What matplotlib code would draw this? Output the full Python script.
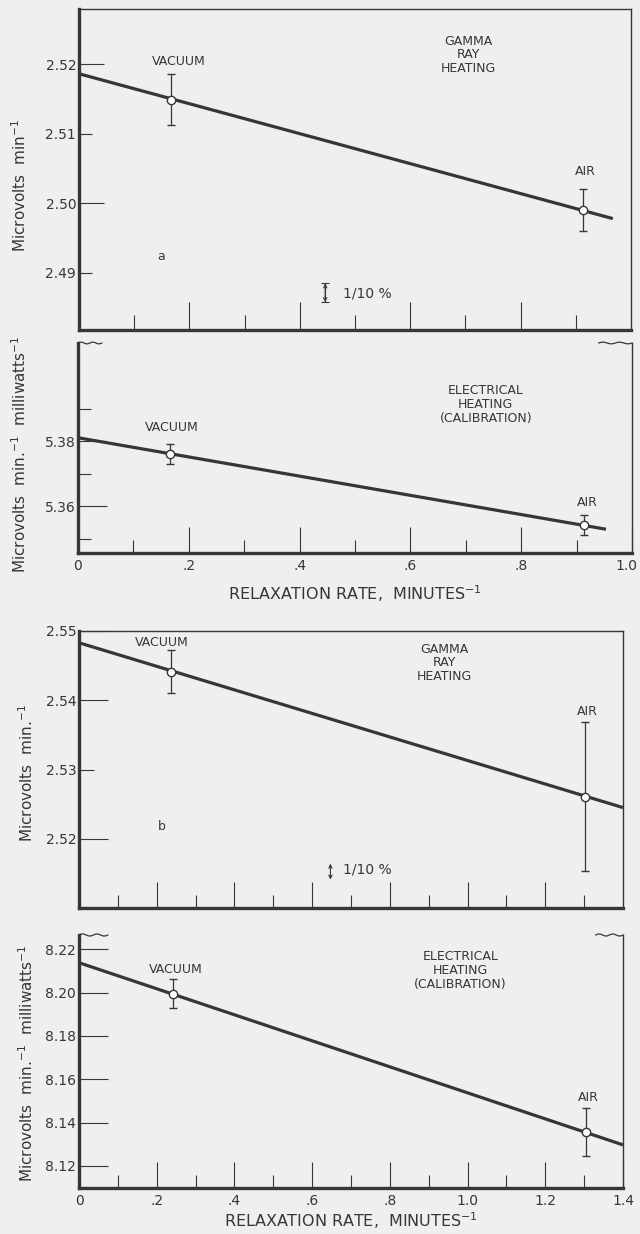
import numpy as np
import matplotlib
matplotlib.use("Agg")
import matplotlib.pyplot as plt
from matplotlib.transforms import ScaledTranslation

plt.rcParams['font.family'] = ['DejaVu Sans']
plt.rcParams['mathtext.default'] = 'regular'

BG = '#efefef'
INK = '#363636'

# --- data ---
# (a) gamma ray heating
a_x = [0.166, 0.913]
a_y = [2.5149, 2.4990]
a_err = [0.0036, 0.0030]
a_fit_x = [0.0, 0.967]
a_fit_y = [2.5186, 2.4978]

# (a) electrical heating (calibration)
ae_x = [0.166, 0.914]
ae_y = [5.3762, 5.3543]
ae_err = [0.0031, 0.0031]
ae_fit_x = [0.0, 0.953]
ae_fit_y = [5.3811, 5.3530]

# (b) gamma ray heating
b_x = [0.236, 1.303]
b_y = [2.5441, 2.5261]
b_err = [0.0031, 0.0108]
b_fit_x = [0.0, 1.4]
b_fit_y = [2.5483, 2.5245]

# (b) electrical heating (calibration)
be_x = [0.241, 1.304]
be_y = [8.1995, 8.1356]
be_err = [0.0066, 0.0112]
be_fit_x = [0.0, 1.4]
be_fit_y = [8.2138, 8.1297]

point_names = ['VACUUM', 'AIR']

# 1/10 % scale bars
a_bar = [2.4858, 2.4885]
b_bar = [2.5141, 2.5164]


def style_axes(ax, xmax, top_open=False):
    ax.set_facecolor(BG)
    ax.set_xlim(0, xmax)
    for s in ['left', 'bottom', 'right', 'top']:
        ax.spines[s].set_color(INK)
    ax.spines['left'].set_linewidth(2.4)
    ax.spines['bottom'].set_linewidth(2.4)
    ax.spines['right'].set_linewidth(1.0)
    ax.spines['top'].set_linewidth(1.0)
    if top_open:
        ax.spines['top'].set_visible(False)
    ax.tick_params(which='both', direction='in', colors=INK, width=0.8,
                   labelsize=10, labelcolor=INK)
    ax.tick_params(axis='x', which='both', top=False, pad=4)
    ax.tick_params(axis='y', which='both', right=False, pad=2)


def break_marks(ax, spans):
    # little wavy "broken axis" marks at the top corners
    for x0, x1 in spans:
        xs = np.linspace(x0, x1, 40)
        ys = 1 + 0.004 * np.sin((xs - x0) / (x1 - x0) * 4 * np.pi)
        ax.plot(xs, ys, transform=ax.transAxes, color=INK, lw=0.9,
                clip_on=False)


def draw_series(ax, fx, fy, px, py, perr, labels, lab_pos):
    ax.plot(fx, fy, color=INK, lw=2.3, solid_capstyle='butt', zorder=2)
    ax.errorbar(px, py, yerr=perr, fmt='o', ms=6, mfc='white', mec=INK,
                mew=1.0, ecolor=INK, elinewidth=0.9, capsize=3, capthick=0.9,
                zorder=3)
    for name, (tx, ty) in zip(labels, lab_pos):
        ax.text(tx, ty, name, ha='center', va='center', fontsize=9, color=INK)


fig = plt.figure(figsize=(6.4, 12.34), dpi=100, facecolor=BG)

# ---------------- panel a : gamma ray ----------------
ax1 = fig.add_axes([79 / 640, 1 - 330 / 1234, 552 / 640, 321 / 1234])
style_axes(ax1, 1.0)
ax1.set_ylim(2.4818, 2.5279)
draw_series(ax1, a_fit_x, a_fit_y, a_x, a_y, a_err, point_names,
            [(0.18, 2.5204), (0.918, 2.5045)])
ax1.set_yticks([2.50, 2.52])
ax1.set_yticklabels(['2.50', '2.52'])
ax1.set_yticks([2.49, 2.51], minor=True)
ax1.set_yticklabels(['2.49', '2.51'], minor=True)
ax1.set_xticks([0.2, 0.4, 0.6, 0.8])
ax1.set_xticks([0.1, 0.3, 0.5, 0.7, 0.9], minor=True)
ax1.tick_params(axis='x', which='both', labelbottom=False)
ax1.tick_params(axis='y', which='major', length=18)
ax1.tick_params(axis='y', which='minor', length=9)
ax1.tick_params(axis='x', which='major', length=20)
ax1.tick_params(axis='x', which='minor', length=11)
ax1.text(0.706, 2.5213, 'GAMMA\nRAY\nHEATING', ha='center', va='center',
         fontsize=9, color=INK, linespacing=1.05)
ax1.text(0.149, 2.4924, 'a', ha='center', va='center', fontsize=9, color=INK)
ax1.errorbar([0.446], [np.mean(a_bar)], yerr=[(a_bar[1] - a_bar[0]) / 2],
             fmt='none', ecolor=INK, elinewidth=0.8, capsize=3, capthick=0.8)
ax1.annotate('', xy=(0.446, a_bar[0]), xytext=(0.446, a_bar[1]),
             arrowprops=dict(arrowstyle='<->', color=INK, lw=0.8,
                             shrinkA=0, shrinkB=0, mutation_scale=6))
ax1.text(0.478, 2.4871, '1/10 %', ha='left', va='center', fontsize=10,
         color=INK)
ax1.set_ylabel('Microvolts  min$^{-1}$', fontsize=11, color=INK)
ax1.yaxis.set_label_coords(-0.107, 0.45)
ax1.yaxis.label.set_va('center')

# ---------------- panel a : electrical ----------------
ax2 = fig.add_axes([78 / 640, 1 - 553 / 1234, 554 / 640, 210 / 1234])
style_axes(ax2, 1.0, top_open=True)
ax2.set_ylim(5.3457, 5.4102)
draw_series(ax2, ae_fit_x, ae_fit_y, ae_x, ae_y, ae_err, point_names,
            [(0.17, 5.3843), (0.92, 5.3612)])
ax2.set_yticks([5.36, 5.38])
ax2.set_yticklabels(['5.36', '5.38'])
ax2.set_yticks([5.35, 5.37, 5.39], minor=True)
ax2.tick_params(axis='y', which='major', length=21)
ax2.tick_params(axis='y', which='minor', length=9)
ax2.set_xticks([0, 0.2, 0.4, 0.6, 0.8, 1.0])
ax2.set_xticklabels(['0', '.2', '.4', '.6', '.8', '1.0'])
ax2.set_xticks([0.1, 0.3, 0.5, 0.7, 0.9], minor=True)
ax2.tick_params(axis='x', which='major', length=19)
ax2.tick_params(axis='x', which='minor', length=9.5)
# the last label sits right at the page edge; nudge it in a little
last = ax2.get_xticklabels()[-1]
last.set_transform(last.get_transform() +
                   ScaledTranslation(-6 / 100, 0, fig.dpi_scale_trans))
ax2.text(0.736, 5.3912, 'ELECTRICAL\nHEATING\n(CALIBRATION)', ha='center',
         va='center', fontsize=9, color=INK, linespacing=1.1)
ax2.set_xlabel('RELAXATION RATE,  MINUTES$^{-1}$', fontsize=11.5, color=INK,
               labelpad=8)
ax2.set_ylabel('Microvolts  min.$^{-1}$  milliwatts$^{-1}$', fontsize=11,
               color=INK)
ax2.yaxis.set_label_coords(-0.105, 0.47)
ax2.yaxis.label.set_va('center')
break_marks(ax2, [(0.0, 0.043), (0.94, 1.0)])

# ---------------- panel b : gamma ray ----------------
ax3 = fig.add_axes([79 / 640, 1 - 908 / 1234, 544 / 640, 277 / 1234])
style_axes(ax3, 1.4)
ax3.set_ylim(2.51, 2.55)
draw_series(ax3, b_fit_x, b_fit_y, b_x, b_y, b_err, point_names,
            [(0.214, 2.5484), (1.308, 2.5384)])
ax3.set_yticks([2.52, 2.54, 2.55])
ax3.set_yticklabels(['2.52', '2.54', '2.55'])
ax3.set_yticks([2.53], minor=True)
ax3.set_yticklabels(['2.53'], minor=True)
ax3.tick_params(axis='y', which='major', length=21)
ax3.tick_params(axis='y', which='minor', length=11)
ax3.set_xticks([0.2, 0.4, 0.6, 0.8, 1.0, 1.2])
ax3.set_xticks([0.1, 0.3, 0.5, 0.7, 0.9, 1.1, 1.3], minor=True)
ax3.tick_params(axis='x', which='both', labelbottom=False)
ax3.tick_params(axis='x', which='major', length=19)
ax3.tick_params(axis='x', which='minor', length=9.5)
ax3.text(0.94, 2.5454, 'GAMMA\nRAY\nHEATING', ha='center', va='center',
         fontsize=9, color=INK, linespacing=1.05)
ax3.text(0.214, 2.5218, 'b', ha='center', va='center', fontsize=9, color=INK)
ax3.annotate('', xy=(0.647, b_bar[0]), xytext=(0.647, b_bar[1]),
             arrowprops=dict(arrowstyle='<->', color=INK, lw=0.8,
                             shrinkA=0, shrinkB=0, mutation_scale=6))
ax3.text(0.68, 2.5156, '1/10 %', ha='left', va='center', fontsize=10,
         color=INK)
ax3.set_ylabel('Microvolts  min.$^{-1}$', fontsize=11, color=INK)
ax3.yaxis.set_label_coords(-0.097, 0.487)
ax3.yaxis.label.set_va('center')

# ---------------- panel b : electrical ----------------
ax4 = fig.add_axes([79 / 640, 1 - 1188 / 1234, 544 / 640, 253 / 1234])
style_axes(ax4, 1.4, top_open=True)
ax4.set_ylim(8.1098, 8.2266)
draw_series(ax4, be_fit_x, be_fit_y, be_x, be_y, be_err, point_names,
            [(0.249, 8.2108), (1.312, 8.1515)])
ax4.set_yticks([8.12, 8.14, 8.16, 8.18, 8.20, 8.22])
ax4.set_yticklabels(['8.12', '8.14', '8.16', '8.18', '8.20', '8.22'])
ax4.tick_params(axis='y', which='major', length=21)
ax4.set_xticks([0, 0.2, 0.4, 0.6, 0.8, 1.0, 1.2, 1.4])
ax4.set_xticklabels(['0', '.2', '.4', '.6', '.8', '1.0', '1.2', '1.4'])
ax4.set_xticks([0.1, 0.3, 0.5, 0.7, 0.9, 1.1, 1.3], minor=True)
ax4.tick_params(axis='x', which='major', length=19)
ax4.tick_params(axis='x', which='minor', length=9.5)
ax4.text(0.982, 8.2101, 'ELECTRICAL\nHEATING\n(CALIBRATION)', ha='center',
         va='center', fontsize=9, color=INK, linespacing=1.1)
ax4.set_xlabel('RELAXATION RATE,  MINUTES$^{-1}$', fontsize=11.5, color=INK,
               labelpad=2)
ax4.set_ylabel('Microvolts  min.$^{-1}$  milliwatts$^{-1}$', fontsize=11,
               color=INK)
ax4.yaxis.set_label_coords(-0.097, 0.494)
ax4.yaxis.label.set_va('center')
break_marks(ax4, [(0.0, 0.053), (0.95, 1.0)])

fig.savefig('out.png', dpi=100, facecolor=BG)
